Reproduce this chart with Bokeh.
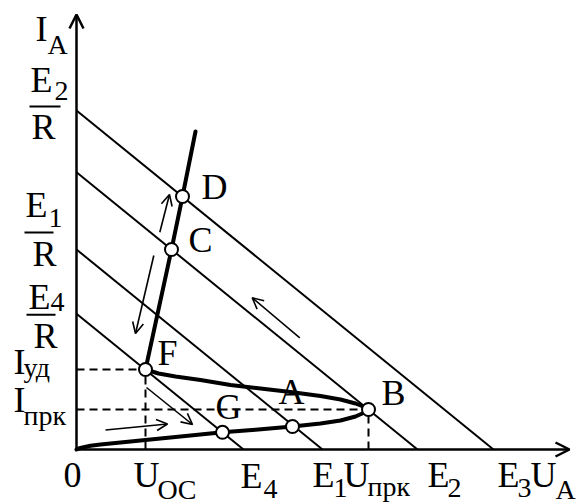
from bokeh.plotting import figure
from bokeh.models import Range1d, Arrow, OpenHead, ColumnDataSource
from bokeh.embed import file_html
from bokeh.resources import INLINE
from bokeh.core.properties import value

# ---------------- data (arbitrary units) ----------------
# source voltages of the four load lines
E_names = ["E4", "E1", "E2", "E3"]
E_values = [16.7, 24.6, 34.1, 41.7]
R_load = 1.23

# S-shaped I-V characteristic: lower branch 0 -> B, return branch B -> F, steep branch F -> up
curve_u = [0.0, 0.2, 0.6, 1.4, 2.4, 3.9, 5.9, 8.4, 11.4, 14.6, 17.9, 21.6, 24.4, 26.4, 27.9, 28.8, 29.2,
           28.8, 27.9, 26.4, 24.4, 21.4, 18.4, 15.4, 12.4, 9.9, 8.2, 6.9,
           9.5, 10.6, 11.9]
curve_i = [0.0, 0.1, 0.2, 0.37, 0.5, 0.65, 0.85, 1.1, 1.4, 1.72, 1.98, 2.3, 2.6, 2.9, 3.3, 3.7, 4.0,
           4.25, 4.6, 5.0, 5.35, 5.75, 6.1, 6.45, 6.95, 7.3, 7.6, 8.0,
           20.0, 25.3, 31.8]

# operating points
pt_names = ["G", "A", "B", "F", "C", "D"]
pt_u = [14.6, 21.6, 29.2, 6.9, 9.5, 10.6]
pt_i = [1.72, 2.3, 4.0, 8.0, 20.0, 25.3]

# characteristic values
U_oc, I_ud = 6.9, 8.0
U_prk, I_prk = 29.2, 4.0
U_max, I_max = 49.3, 43.5

# direction arrows (start u, start i, end u, end i)
arrows_u0 = [8.33, 7.73, 22.33, 2.9, 7.0]
arrows_i0 = [21.73, 19.4, 11.17, 1.95, 6.2]
arrows_u1 = [9.3, 5.9, 17.57, 9.1, 11.6]
arrows_i1 = [25.5, 11.6, 15.17, 2.55, 2.5]

FONT = "Liberation Serif"
BIG = "36px"
SMALL = "28px"
FIX_BIG = -14
FIX_SMALL = -11

p = figure(width=582, height=504, output_backend="svg", toolbar_location=None,
           x_range=Range1d(-7.6, 50.6), y_range=Range1d(-5.5, 44.9), min_border=0)
p.axis.visible = False
p.grid.visible = False
p.outline_line_color = None
p.background_fill_color = "white"

# load lines
for E in E_values:
    p.line([0, E], [E / R_load, 0], line_color="black", line_width=2)

# axes with arrows
p.add_layout(Arrow(end=OpenHead(size=14, line_width=2.5), x_start=0, y_start=0, x_end=0, y_end=I_max, line_width=2.5))
p.add_layout(Arrow(end=OpenHead(size=14, line_width=2.5), x_start=0, y_start=0, x_end=U_max, y_end=0, line_width=2.5))

# dashed guides
for (u, i) in [(U_oc, I_ud), (U_prk, I_prk)]:
    p.line([0, u], [i, i], line_color="black", line_width=2, line_dash="8 5")
    p.line([u, u], [0, i], line_color="black", line_width=2, line_dash="8 5")

# characteristic
p.line(curve_u, curve_i, line_color="black", line_width=4, line_join="round", line_cap="round")

# direction arrows
for a, b, c, d in zip(arrows_u0, arrows_i0, arrows_u1, arrows_i1):
    p.add_layout(Arrow(end=OpenHead(size=11, line_width=1.6), x_start=a, y_start=b, x_end=c, y_end=d, line_width=1.6))

# operating points
p.scatter(pt_u, pt_i, size=13, marker="circle", fill_color="white", line_color="black", line_width=2)

# ---------------- labels ----------------
big_x, big_y, big_t, big_dx, big_dy = [], [], [], [], []
sm_x, sm_y, sm_t, sm_dx, sm_dy = [], [], [], [], []

def lab(x, y, t, dx, dy, sub=None, sdx=0, sdy=0):
    big_x.append(x); big_y.append(y); big_t.append(t); big_dx.append(dx); big_dy.append(dy + FIX_BIG)
    if sub:
        sm_x.append(x); sm_y.append(y); sm_t.append(sub); sm_dx.append(sdx); sm_dy.append(sdy + FIX_SMALL)

# point labels
offs = {"G": (-7, -11), "A": (-14, -21), "B": (13, -3), "F": (12, -3), "C": (17, 4), "D": (19, 4)}
for n, u, i in zip(pt_names, pt_u, pt_i):
    lab(u, i, n, *offs[n])

# x axis labels
lab(0, 0, "0", -13, 39)
lab(U_oc, 0, "U", -12, 39, "OC", 12, 51)
lab(E_values[0], 0, "E", -3, 40, "4", 20, 50)
lab(E_values[1], 0, "E", -10, 39, "1", 11, 49)
lab(U_prk, 0, "U", -25, 39, "прк", -1, 48)
lab(E_values[2], 0, "E", 10, 39, "2", 30, 49)
lab(E_values[3], 0, "E", 4, 39, "3", 24, 49)
lab(U_max, 0, "U", -39, 39, "A", -14, 51)

# y axis labels
lab(0, I_max, "I", -41, 28, "A", -29, 41)
lab(0, I_ud, "I", -63, 6, "уд", -53, 9)
lab(0, I_prk, "I", -63, 4, "прк", -53, 17)

frac = [("2", E_values[3] / R_load, -46, -16, -22, -8, -47, -16, -4, -45, 31),
        ("1", E_values[1] / R_load, -51, -31, -28, -21, -52, -23, -17, -44, 18),
        ("4", E_values[0] / R_load, -48, -3, -26, -1, -50, -21, 1, -43, 36)]
bx0, bx1, by = [], [], []
for s, I0, edx, edy, sdx, sdy, b0, b1, bdy, rdx, rdy in frac:
    lab(0, I0, "E", edx, edy, s, sdx, sdy)
    lab(0, I0, "R", rdx, rdy)
    bx0.append(b0 / 10); bx1.append(b1 / 10); by.append(I0 - bdy / 10)
p.segment(bx0, by, bx1, by, line_color="black", line_width=2)

p.text(x="x", y="y", text="t", x_offset="dx", y_offset="dy",
       source=ColumnDataSource(dict(x=big_x, y=big_y, t=big_t, dx=big_dx, dy=big_dy)),
       text_font=value(FONT), text_font_size=value(BIG), text_align="left",
       text_baseline="alphabetic", text_color="black")
p.text(x="x", y="y", text="t", x_offset="dx", y_offset="dy",
       source=ColumnDataSource(dict(x=sm_x, y=sm_y, t=sm_t, dx=sm_dx, dy=sm_dy)),
       text_font=value(FONT), text_font_size=value(SMALL), text_align="left",
       text_baseline="alphabetic", text_color="black")

open("out.html", "w").write(file_html(p, INLINE))
